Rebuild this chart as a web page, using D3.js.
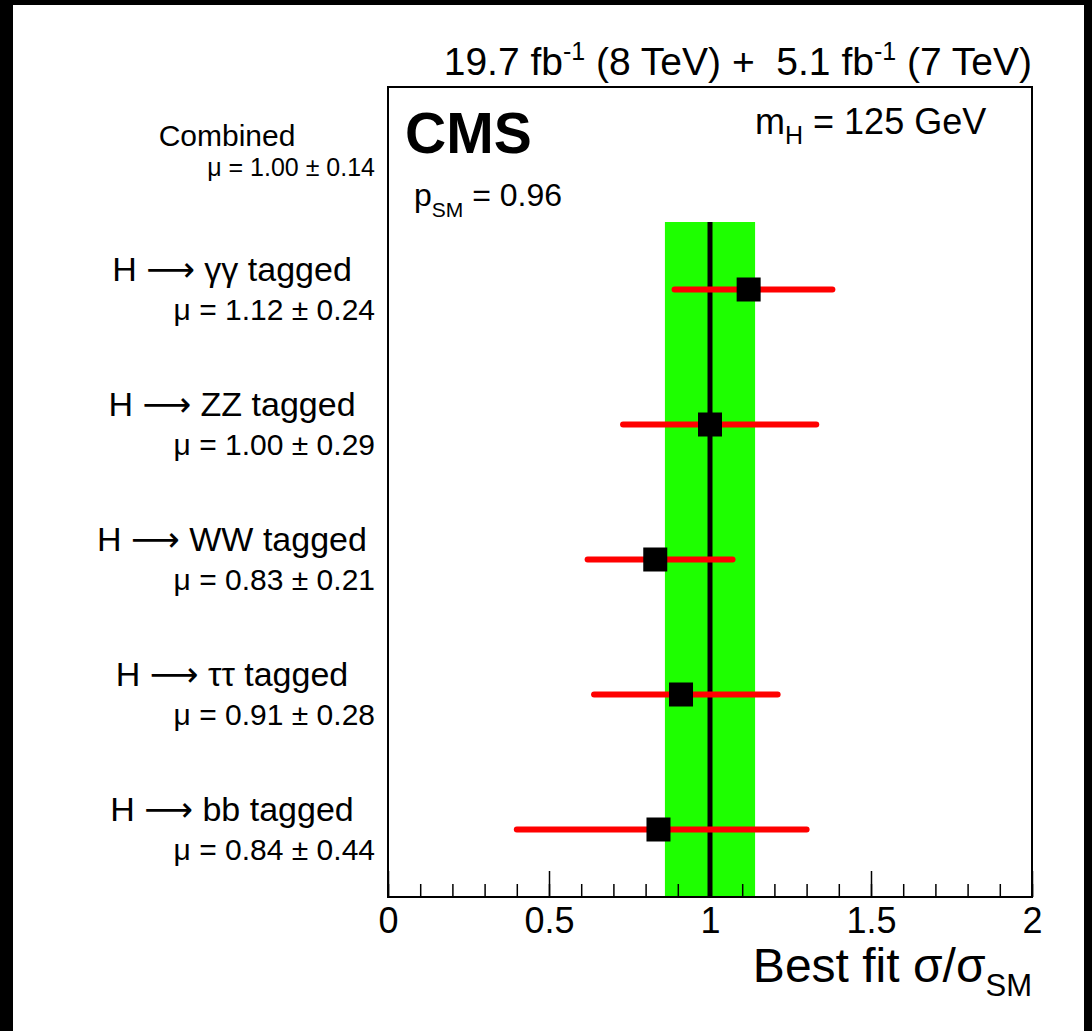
<!DOCTYPE html>
<html>
<head>
<meta charset="utf-8">
<script src="https://cdn.jsdelivr.net/npm/d3@7"></script>
<style>
  body { margin: 0; background: #000; }
  svg text { font-family: "Liberation Sans", Arial, sans-serif; fill: #000; }
  .arrow { font-family: "DejaVu Sans", sans-serif; }
</style>
</head>
<body>
<svg id="chart" width="1092" height="1031"></svg>
<script>
// channel rows, top to bottom
const channelNames = ["\u03b3\u03b3", "ZZ", "WW", "\u03c4\u03c4", "bb"];
const muLabels = ["\u03bc = 1.12 \u00b1 0.24", "\u03bc = 1.00 \u00b1 0.29", "\u03bc = 0.83 \u00b1 0.21", "\u03bc = 0.91 \u00b1 0.28", "\u03bc = 0.84 \u00b1 0.44"];
const rowPos = [4.5, 3.5, 2.5, 1.5, 0.5];
const bestFit = [1.12, 1.00, 0.83, 0.91, 0.84];
const errLow = [0.89, 0.73, 0.62, 0.64, 0.40];
const errHigh = [1.38, 1.33, 1.07, 1.21, 1.30];

// combined result
const combinedPos = 5.5;
const combinedMu = 1.00;
const combinedBand = [0.86, 1.14];
const bandRows = [0, 5];

const majorTicks = [0, 0.5, 1, 1.5, 2];
const minorTicks = d3.range(0, 21).map(i => i / 10);

const svg = d3.select('#chart');
const frame = { left: 388, right: 1032, top: 87, bottom: 897 };

svg.append('rect')
    .attr('x', 13).attr('y', 5)
    .attr('width', 1071).attr('height', 1031)
    .attr('fill', '#fff');

const xScale = d3.scaleLinear().domain([0, 2]).range([frame.left, frame.right]);
const yScale = d3.scaleLinear().domain([0, 6]).range([frame.bottom, frame.top]);

// green band for the combined fit
svg.append('rect')
    .attr('x', xScale(combinedBand[0]))
    .attr('width', xScale(combinedBand[1]) - xScale(combinedBand[0]))
    .attr('y', yScale(bandRows[1]))
    .attr('height', yScale(bandRows[0]) - yScale(bandRows[1]))
    .attr('fill', '#1eff00');

svg.append('line')
    .attr('x1', xScale(combinedMu)).attr('x2', xScale(combinedMu))
    .attr('y1', yScale(bandRows[0])).attr('y2', yScale(bandRows[1]))
    .attr('stroke', '#000').attr('stroke-width', 5);

const rows = channelNames.map((d, i) => ({
    name: d, mu: muLabels[i], pos: rowPos[i],
    fit: bestFit[i], lo: errLow[i], hi: errHigh[i]
}));

// error bars
svg.selectAll('line.err')
    .data(rows)
    .enter()
    .append('line')
    .attr('class', 'err')
    .attr('x1', d => xScale(d.lo))
    .attr('x2', d => xScale(d.hi))
    .attr('y1', d => yScale(d.pos))
    .attr('y2', d => yScale(d.pos))
    .attr('stroke', '#ff0000')
    .attr('stroke-width', 6)
    .attr('stroke-linecap', 'round');

const sq = 24;
svg.selectAll('rect.pt')
    .data(rows)
    .enter()
    .append('rect')
    .attr('class', 'pt')
    .attr('x', d => xScale(d.fit) - sq / 2)
    .attr('y', d => yScale(d.pos) - sq / 2)
    .attr('width', sq)
    .attr('height', sq)
    .attr('fill', '#000');

// x axis ticks (pointing inwards)
const gMinor = svg.append('g').attr('transform', `translate(0,${frame.bottom})`)
    .call(d3.axisBottom(xScale).tickValues(minorTicks).tickSize(-13).tickFormat(''));
const gMajor = svg.append('g').attr('transform', `translate(0,${frame.bottom})`)
    .call(d3.axisBottom(xScale).tickValues(majorTicks).tickSize(-26).tickPadding(10).tickFormat(d3.format('')));
[gMinor, gMajor].forEach(g => {
    g.selectAll('.domain').remove();
    g.selectAll('line').attr('stroke', '#000').attr('stroke-width', 1.5);
});
gMajor.selectAll('text')
    .style('font-family', '"Liberation Sans", Arial, sans-serif')
    .style('font-size', '36px')
    .attr('fill', '#000');

svg.append('rect')
    .attr('x', frame.left).attr('y', frame.top)
    .attr('width', frame.right - frame.left)
    .attr('height', frame.bottom - frame.top)
    .attr('fill', 'none')
    .attr('stroke', '#000')
    .attr('stroke-width', 2);

// row labels on the left
const lab = svg.selectAll('text.lab')
    .data(rows)
    .enter()
    .append('text')
    .attr('class', 'lab')
    .attr('x', 232)
    .attr('y', d => yScale(d.pos) - 9)
    .attr('text-anchor', 'middle')
    .style('font-size', '34px');
lab.append('tspan').text('H ');
lab.append('tspan').attr('class', 'arrow').text('\u27f6');
lab.append('tspan').text(d => ' ' + d.name + ' tagged');

svg.selectAll('text.mu')
    .data(rows)
    .enter()
    .append('text')
    .attr('class', 'mu')
    .attr('x', 375)
    .attr('y', d => yScale(d.pos) + 30)
    .attr('text-anchor', 'end')
    .style('font-size', '30px')
    .text(d => d.mu);

svg.append('text')
    .attr('x', 227).attr('y', yScale(combinedPos) - 9)
    .attr('text-anchor', 'middle')
    .style('font-size', '30px')
    .text('Combined');
svg.append('text')
    .attr('x', 375).attr('y', yScale(combinedPos) + 21)
    .attr('text-anchor', 'end')
    .style('font-size', '25px')
    .text('\u03bc = 1.00 \u00b1 0.14');

// header texts
const lumi = svg.append('text')
    .attr('x', frame.right).attr('y', 75)
    .attr('text-anchor', 'end')
    .style('font-size', '39px');
lumi.append('tspan').text('19.7 fb');
lumi.append('tspan').attr('dy', -15).style('font-size', '25px').text('-1');
lumi.append('tspan').attr('dy', 15).text(' (8 TeV) +\u00a0\u00a05.1 fb');
lumi.append('tspan').attr('dy', -15).style('font-size', '25px').text('-1');
lumi.append('tspan').attr('dy', 15).text(' (7 TeV)');

svg.append('text')
    .attr('x', 405).attr('y', 153)
    .style('font-size', '57px')
    .style('font-weight', 'bold')
    .text('CMS');

const mh = svg.append('text')
    .attr('x', 755).attr('y', 134)
    .style('font-size', '36px');
mh.append('tspan').text('m');
mh.append('tspan').attr('dy', 10).style('font-size', '25px').text('H');
mh.append('tspan').attr('dy', -10).text(' = 125 GeV');

const psm = svg.append('text')
    .attr('x', 414).attr('y', 206)
    .style('font-size', '32px');
psm.append('tspan').text('p');
psm.append('tspan').attr('dy', 11).style('font-size', '21px').text('SM');
psm.append('tspan').attr('dy', -11).text(' = 0.96');

// x axis title
const xt = svg.append('text')
    .attr('x', frame.right).attr('y', 982)
    .attr('text-anchor', 'end')
    .style('font-size', '48px');
xt.append('tspan').text('Best fit \u03c3/\u03c3');
xt.append('tspan').attr('dy', 14).style('font-size', '31px').text('SM');
</script>
</body>
</html>
